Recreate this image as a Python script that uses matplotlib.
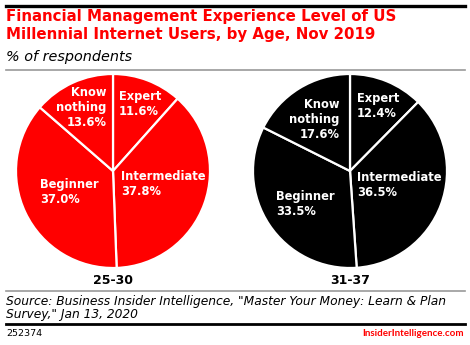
import matplotlib
matplotlib.use("Agg")
import matplotlib.pyplot as plt
from matplotlib.lines import Line2D

plt.rcParams['font.family'] = ['DejaVu Sans']

# data
categories = ['Expert', 'Intermediate', 'Beginner', 'Know\nnothing']
groups = ['25-30', '31-37']
values_25_30 = [11.6, 37.8, 37.0, 13.6]
values_31_37 = [12.4, 36.5, 33.5, 17.6]
pie_colors = ['#ff0000', '#000000']

# label placement inside each wedge (pie axes units), and alignment
label_pos = [
    [(0.06, 0.69, 'left'), (0.08, -0.13, 'left'), (-0.75, -0.22, 'left'), (-0.07, 0.65, 'right')],
    [(0.07, 0.675, 'left'), (0.07, -0.14, 'left'), (-0.76, -0.34, 'left'), (-0.11, 0.53, 'right')],
]

W, H = 470, 345
fig = plt.figure(figsize=(W / 100, H / 100), dpi=100)


def fx(px):
    return px / W


def fy(py):
    return 1 - py / H


# header
fig.add_artist(Line2D([fx(6), fx(465)], [fy(6), fy(6)], color='black', lw=2.4))
fig.text(fx(6), fy(25.5), 'Financial Management Experience Level of US\nMillennial Internet Users, by Age, Nov 2019',
         color='#ff0000', fontsize=10.8, fontweight='bold', va='center', ha='left', linespacing=1.25)
fig.text(fx(6), fy(57), '% of respondents', fontsize=10.4, style='italic', va='center', ha='left')
fig.add_artist(Line2D([fx(6), fx(465)], [fy(70), fy(70)], color='#999999', lw=1.2))

# pies
R = 97
centers = [(113, 171), (350, 171)]
all_values = [values_25_30, values_31_37]
for i, (cx, cy) in enumerate(centers):
    ax = fig.add_axes([fx(cx - R), fy(cy + R), 2 * R / W, 2 * R / H])
    ax.pie(all_values[i], colors=[pie_colors[i]] * 4, startangle=90, counterclock=False,
           radius=1, wedgeprops=dict(edgecolor='white', linewidth=1.6))
    ax.set_xlim(-1, 1)
    ax.set_ylim(-1, 1)
    ax.set_aspect('auto')
    ax.axis('off')
    for cat, val, (lx, ly, ha) in zip(categories, all_values[i], label_pos[i]):
        ax.text(lx, ly, f'{cat}\n{val:.1f}%', color='white', fontsize=8.3, fontweight='bold',
                ha=ha, va='center', multialignment=ha, linespacing=1.2)
    fig.text(fx(cx), fy(281), groups[i], fontsize=9, fontweight='bold', ha='center', va='center')

# footer
fig.add_artist(Line2D([fx(6), fx(465)], [fy(291), fy(291)], color='#999999', lw=1.2))
fig.text(fx(6), fy(308), 'Source: Business Insider Intelligence, "Master Your Money: Learn & Plan\nSurvey," Jan 13, 2020',
         fontsize=8.8, style='italic', ha='left', va='center', linespacing=1.0)
fig.add_artist(Line2D([fx(6), fx(465)], [fy(324), fy(324)], color='black', lw=2))
fig.text(fx(6), fy(334), '252374', fontsize=6.8, ha='left', va='center')
fig.text(fx(464), fy(334), 'InsiderIntelligence.com', fontsize=7, fontweight='bold', color='#ff0000',
         family=['Lato', 'DejaVu Sans'], ha='right', va='center')

fig.savefig('out.png', dpi=100)
